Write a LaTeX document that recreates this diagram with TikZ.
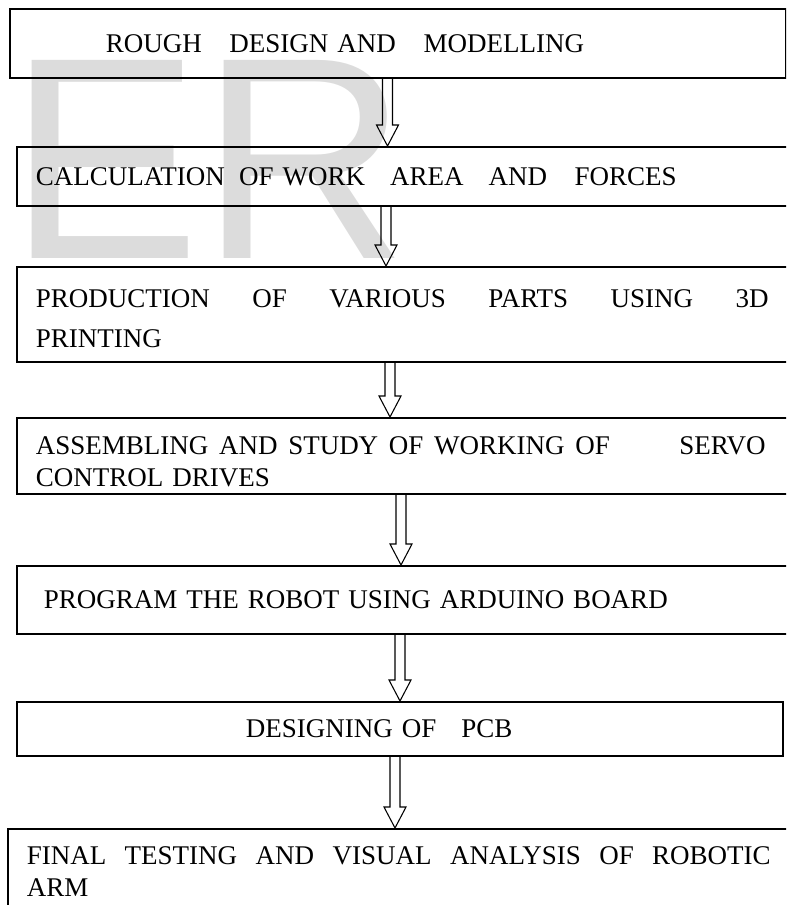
\documentclass[tikz,border=0pt]{standalone}
\usepackage{fontspec}
\setmainfont{Liberation Serif}
\newfontfamily\markfont{Liberation Sans}
\usetikzlibrary{calc}
\definecolor{markgray}{HTML}{DCDCDC}
\newlength{\pxunit}
\setlength{\pxunit}{0.75pt}
\newcommand{\boxfont}{\fontsize{20.25pt}{24pt}\selectfont}

\tikzset{
  stepbox/.style={draw, line width=1.2pt, anchor=north west, align=left,
    inner ysep=0pt, font=\boxfont},
  hollow/.style={line width=0.8pt, line join=miter},
}

\begin{document}
\begin{tikzpicture}[x=0.75pt, y=-0.75pt]
  \useasboundingbox (0,0) rectangle (786,905);
  \clip (0,0) rectangle (786,905);

  % watermark behind the boxes
  \node[anchor=base west, inner sep=0pt, text=markgray,
        font=\markfont\fontsize{216pt}{216pt}\selectfont] (mark) at (8,259) {ER};

  % the steps
  \node[stepbox, inner xsep=96\pxunit, text width=584\pxunit, minimum height=69\pxunit] (b1) at (9,8)
    {ROUGH\hspace{14pt} DESIGN AND\hspace{14pt} MODELLING};
  \node[stepbox, inner xsep=19\pxunit, text width=736\pxunit, minimum height=59\pxunit] (b2) at (16,146)
    {CALCULATION\hspace{4pt} OF WORK\hspace{12pt} AREA\hspace{12pt} AND\hspace{14pt} FORCES};
  \node[stepbox, inner xsep=19\pxunit, text width=736\pxunit, minimum height=95\pxunit] (b3) at (16,266)
    {\rule{0pt}{20pt}\makebox[733\pxunit]{PRODUCTION\hfill OF\hfill VARIOUS\hfill PARTS\hfill USING\hfill 3D}\\[6pt]PRINTING};
  \node[stepbox, inner xsep=19\pxunit, text width=736\pxunit, minimum height=76\pxunit] (b4) at (16,417)
    {\rule{0pt}{22pt}\makebox[730\pxunit]{ASSEMBLING\hfill AND\hfill STUDY\hfill OF\hfill WORKING\hfill OF\hspace{44pt}\hfill SERVO}\\CONTROL DRIVES};
  \node[stepbox, inner xsep=19\pxunit, text width=736\pxunit, minimum height=68\pxunit] (b5) at (16,565)
    {\hspace*{6pt}PROGRAM THE ROBOT USING ARDUINO BOARD};
  \node[stepbox, inner xsep=229\pxunit, text width=308\pxunit, minimum height=54\pxunit] (b6) at (16,701)
    {DESIGNING OF\hspace{12pt} PCB};
  \node[stepbox, inner xsep=19\pxunit, text width=744\pxunit, minimum height=86\pxunit] (b7) at (7,828)
    {\makebox[744\pxunit]{FINAL\hfill TESTING\hfill AND\hfill VISUAL\hfill ANALYSIS\hfill OF\hfill ROBOTIC}\\ARM};

  % hollow arrows between the steps
  \foreach \src/\dst/\xpos in {b1/b2/387.5, b2/b3/386, b3/b4/390, b4/b5/401, b5/b6/400, b6/b7/395} {
    \coordinate (ax) at (\xpos,0);
    \draw[hollow] ($(\src.south -| ax)+(-5,0)$) -- ($(\dst.north -| ax)+(-5,-21)$)
      -- ++(-6,0) -- (\dst.north -| ax) -- ($(\dst.north -| ax)+(11,-21)$)
      -- ++(-6,0) -- ($(\src.south -| ax)+(5,0)$);
  }
\end{tikzpicture}
\end{document}
